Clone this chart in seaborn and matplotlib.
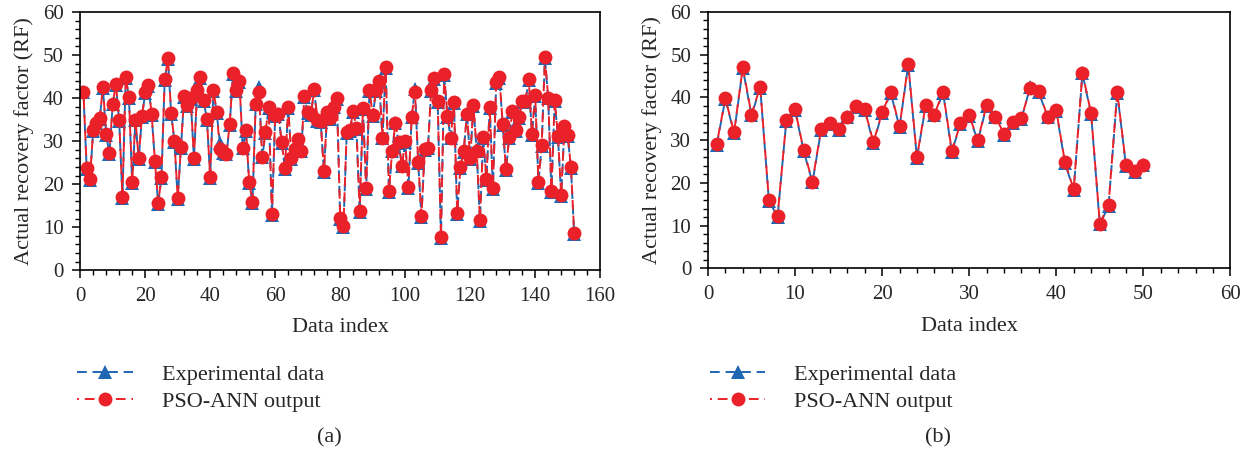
import numpy as np
import pandas as pd
import matplotlib
matplotlib.use("Agg")
import matplotlib.pyplot as plt
from matplotlib.ticker import MultipleLocator, AutoMinorLocator
import seaborn as sns

# ---------------- data ----------------
out_a = [41.5, 23.8, 21.3, 32.5, 34.3, 35.4, 42.5, 31.7, 27.2, 38.7,
         43.2, 34.8, 17.0, 44.9, 40.3, 20.5, 35.0, 26.0, 35.8, 41.3,
         43.0, 36.2, 25.3, 15.6, 21.6, 44.3, 49.2, 36.5, 30.0, 16.8,
         28.6, 40.5, 38.4, 40.0, 26.1, 41.9, 44.9, 39.6, 35.1, 21.6,
         41.9, 36.7, 28.1, 27.5, 27.1, 33.9, 45.8, 41.8, 44.0, 28.5,
         32.6, 20.5, 15.9, 38.7, 41.3, 26.4, 32.0, 37.9, 13.1, 36.0,
         36.4, 29.7, 23.8, 37.9, 26.1, 28.1, 30.5, 27.8, 40.5, 36.8,
         36.3, 42.0, 34.9, 34.7, 23.0, 36.8, 35.3, 38.0, 39.9, 12.2,
         10.2, 32.0, 32.6, 37.0, 33.1, 13.7, 37.6, 19.0, 41.8, 36.0,
         41.8, 44.0, 30.8, 47.2, 18.4, 27.8, 34.3, 29.7, 24.3, 29.9,
         19.3, 35.7, 41.5, 25.2, 12.6, 28.1, 28.5, 41.9, 44.7, 39.3,
         7.7, 45.5, 35.9, 30.8, 39.1, 13.3, 23.9, 27.7, 36.4, 26.1,
         38.4, 27.8, 11.6, 30.9, 21.2, 37.9, 19.1, 43.8, 44.9, 34.0,
         23.5, 30.9, 37.0, 32.6, 35.6, 39.3, 39.3, 44.4, 31.7, 40.7,
         20.4, 29.1, 49.5, 40.1, 18.4, 39.5, 31.2, 17.4, 33.4, 31.4,
         24.0, 8.6]
exp_a = [41.3, 23.5, 21.0, 32.3, 34.1, 35.2, 42.3, 31.5, 27.0, 38.5,
         43.0, 34.6, 16.8, 44.7, 40.1, 20.3, 34.8, 25.8, 35.6, 41.1,
         42.8, 36.0, 25.1, 15.4, 21.4, 44.1, 49.0, 36.3, 29.8, 16.6,
         28.4, 40.3, 38.2, 39.8, 25.9, 41.7, 44.7, 39.4, 34.9, 21.4,
         41.7, 36.5, 29.6, 27.3, 26.9, 33.7, 45.6, 41.6, 43.8, 28.3,
         32.4, 20.3, 15.7, 38.5, 42.5, 26.2, 31.8, 37.7, 12.9, 35.8,
         36.2, 29.5, 23.6, 37.7, 25.9, 27.9, 30.3, 27.6, 40.3, 36.6,
         36.1, 41.8, 34.7, 34.5, 22.8, 36.6, 35.1, 37.8, 39.7, 12.0,
         10.0, 31.8, 32.4, 36.8, 32.9, 13.5, 37.4, 18.8, 41.6, 35.8,
         41.6, 43.8, 30.6, 47.0, 18.2, 27.6, 34.1, 29.5, 24.1, 29.7,
         19.1, 35.5, 42.2, 25.0, 12.4, 27.9, 28.3, 41.7, 44.5, 39.1,
         7.5, 45.3, 35.7, 30.6, 38.9, 13.1, 23.7, 27.5, 36.2, 25.9,
         38.2, 27.6, 11.4, 30.7, 21.0, 37.7, 18.9, 43.6, 44.7, 33.8,
         23.3, 30.7, 36.8, 32.4, 35.4, 39.1, 39.1, 44.2, 31.5, 40.5,
         20.2, 28.9, 49.3, 39.9, 18.2, 39.3, 31.0, 17.2, 33.2, 31.2,
         23.8, 8.4]

out_b = [29.0, 39.8, 31.8, 47.0, 36.0, 42.5, 16.0, 12.3, 34.7, 37.2,
         27.6, 20.3, 32.6, 34.0, 32.5, 35.5, 38.0, 37.2, 29.5, 36.5,
         41.2, 33.2, 47.8, 26.0, 38.2, 36.0, 41.3, 27.5, 33.9, 35.8,
         30.0, 38.3, 35.5, 31.5, 34.2, 35.2, 42.2, 41.4, 35.5, 37.0,
         24.8, 18.5, 45.8, 36.3, 10.5, 14.8, 41.3, 24.2, 22.7, 24.3]
exp_b = [28.8, 39.6, 31.6, 46.8, 35.8, 42.3, 15.8, 12.1, 34.5, 37.0,
         27.4, 20.1, 32.4, 33.8, 32.3, 35.3, 37.8, 37.0, 29.3, 36.3,
         41.0, 33.0, 47.6, 25.8, 38.0, 35.8, 41.1, 27.3, 33.7, 35.6,
         29.8, 38.1, 35.3, 31.3, 34.0, 35.0, 42.4, 41.2, 35.3, 36.8,
         24.6, 18.3, 45.6, 36.1, 10.3, 14.6, 41.1, 24.0, 22.5, 24.1]

labels = ["Experimental data", "PSO-ANN output"]
panel_tags = ["(a)", "(b)"]
xlims = [160, 60]
xmajor = [20, 10]

# ---------------- style ----------------
sns.set_style("ticks")
plt.rcParams["font.family"] = ["Liberation Serif", "DejaVu Serif"]

BLUE = "#1f66b3"
RED = "#ea2128"

fig = plt.figure(figsize=(12.53, 4.58), dpi=100)
ax_a = fig.add_axes([0.064, 0.410, 0.415, 0.564])
ax_b = fig.add_axes([0.565, 0.414, 0.417, 0.560])

panels = [(ax_a, exp_a, out_a), (ax_b, exp_b, out_b)]
for k, (ax, ev, ov) in enumerate(panels):
    idx = np.arange(1, len(ev) + 1)
    df = pd.DataFrame({"idx": idx, "exp": ev, "out": ov})
    sns.lineplot(data=df, x="idx", y="exp", ax=ax, color=BLUE,
                 marker="^", markersize=9.5, markeredgewidth=0,
                 linewidth=1.4, linestyle=(0, (5, 3)), label=labels[0],
                 legend=False)
    sns.lineplot(data=df, x="idx", y="out", ax=ax, color=RED,
                 marker="o", markersize=10, markeredgewidth=0,
                 linewidth=1.4, linestyle=(4, (5, 3)), label=labels[1],
                 legend=False)
    ax.set_xlim(0, xlims[k])
    ax.set_ylim(0, 60)
    ax.xaxis.set_major_locator(MultipleLocator(xmajor[k]))
    ax.xaxis.set_minor_locator(AutoMinorLocator(5))
    ax.yaxis.set_major_locator(MultipleLocator(10))
    ax.yaxis.set_minor_locator(AutoMinorLocator(5))
    ax.tick_params(which="major", direction="out", length=6, width=1.1,
                   labelsize=15, color="black", pad=6)
    ax.tick_params(which="minor", direction="out", length=3.5, width=1.0,
                   color="black")
    ax.tick_params(top=False, right=False, which="both")
    for s in ax.spines.values():
        s.set_visible(True)
        s.set_linewidth(1.2)
        s.set_color("black")
    ax.set_xlabel("Data index", fontsize=16, labelpad=9)
    ax.set_ylabel("Actual recovery factor (RF)", fontsize=16, labelpad=6)
    handles, lbls = ax.get_legend_handles_labels()
    lx = [0.058, 0.563][k]
    fig.legend(handles, lbls, loc="upper left", bbox_to_anchor=(lx, 0.215),
               bbox_transform=fig.transFigure, frameon=False, fontsize=16,
               handlelength=2.5, handletextpad=1.3, labelspacing=0.32,
               borderaxespad=0, borderpad=0.2, markerscale=1.0)
    cx = [0.263, 0.749][k]
    fig.text(cx, 0.044, panel_tags[k], ha="center", va="center", fontsize=16)

fig.savefig("out.png", dpi=100)
